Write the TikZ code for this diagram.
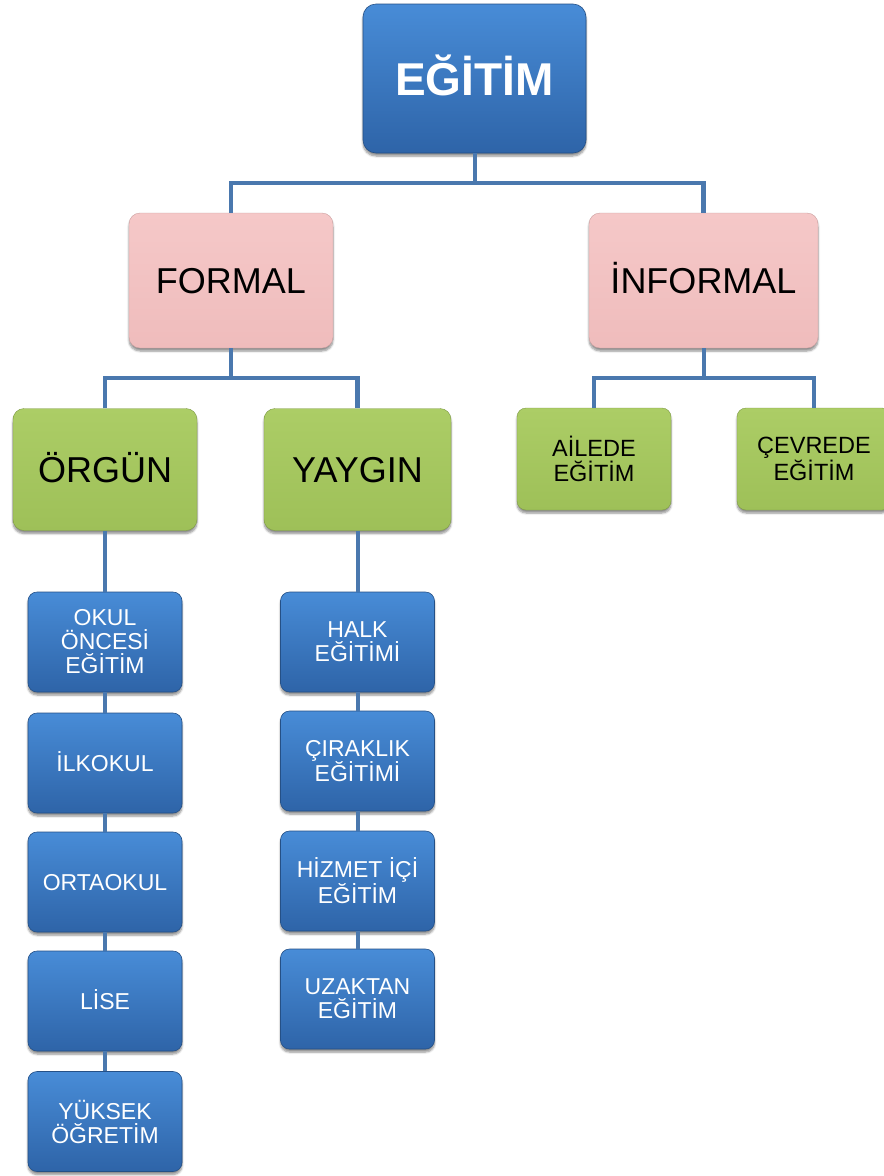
\documentclass[tikz,border=0pt]{standalone}
\usepackage{fontspec}
\setmainfont{Liberation Sans}
\usetikzlibrary{shadows.blur}
\definecolor{bluetop}{RGB}{72,140,215}
\definecolor{bluebot}{RGB}{46,100,168}
\definecolor{pinktop}{RGB}{245,200,200}
\definecolor{pinkbot}{RGB}{239,188,188}
\definecolor{greentop}{RGB}{172,205,102}
\definecolor{greenbot}{RGB}{158,192,88}
\definecolor{conncol}{RGB}{74,120,174}
\tikzset{
  box/.style={rounded corners=11pt, inner sep=0pt, align=center,
    blur shadow={shadow xshift=0pt, shadow yshift=-3pt, shadow blur steps=6, shadow opacity=45}},
  bluebox/.style={box, top color=bluetop, bottom color=bluebot, draw=bluebot!80!black, line width=0.6pt, text=white},
  pinkbox/.style={box, top color=pinktop, bottom color=pinkbot, draw=pinkbot!85!black, line width=0.4pt, text=black,
    minimum width=204pt, minimum height=135pt, font=\fontsize{36}{38}\selectfont, text height=26pt, text depth=0pt},
  greenbig/.style={box, top color=greentop, bottom color=greenbot, draw=greenbot!80!black, line width=0.4pt, text=black,
    minimum height=122pt, font=\fontsize{36}{38}\selectfont, text height=26pt, text depth=0pt},
  greensmall/.style={box, rounded corners=9pt, top color=greentop, bottom color=greenbot, draw=greenbot!80!black, line width=0.4pt, text=black,
    minimum width=154pt, minimum height=102pt, font=\fontsize{23.5}{24.5}\selectfont},
  smallblue/.style={bluebox, rounded corners=9pt, minimum width=154pt, minimum height=100pt, font=\fontsize{23}{24}\selectfont},
  oneline/.style={text height=16.5pt, text depth=0pt},
  conn/.style={draw=conncol, line width=4.5pt},
  vconn/.style={draw=conncol, line width=4pt}
}
\begin{document}
\begin{tikzpicture}[x=1pt,y=-1pt]
\useasboundingbox (0,0) rectangle (884,1176);
% nodes
\node[bluebox, rounded corners=13pt, minimum width=223pt, minimum height=149pt, font=\bfseries\fontsize{46}{48}\selectfont, text height=33pt, text depth=0pt] (egitim) at (474.5,78.5) {EĞİTİM};
\node[pinkbox] (formal) at (231,280.5) {FORMAL};
\node[pinkbox, minimum width=229pt] (informal) at (703.5,280.5) {İNFORMAL};
\node[greenbig, minimum width=184pt] (orgun) at (105,469.5) {ÖRGÜN};
\node[greenbig, minimum width=187pt] (yaygin) at (357.5,469.5) {YAYGIN};
\node[greensmall] (ailede) at (594,459) {AİLEDE\\EĞİTİM};
\node[greensmall] (cevrede) at (814,459) {ÇEVREDE\\EĞİTİM};
% left column
\node[smallblue] (okul) at (105,642) {OKUL\\ÖNCESİ\\EĞİTİM};
\node[smallblue, oneline] (ilk) at (105,763) {İLKOKUL};
\node[smallblue, oneline] (orta) at (105,882) {ORTAOKUL};
\node[smallblue, oneline] (lise) at (105,1001) {LİSE};
\node[smallblue] (yuksek) at (105,1121.5) {YÜKSEK\\ÖĞRETİM};
% right column
\node[smallblue] (halk) at (357.5,642) {HALK\\EĞİTİMİ};
\node[smallblue] (cirak) at (357.5,761) {ÇIRAKLIK\\EĞİTİMİ};
\node[smallblue] (hizmet) at (357.5,881) {HİZMET İÇİ\\EĞİTİM};
\node[smallblue] (uzak) at (357.5,999) {UZAKTAN\\EĞİTİM};
% junctions
\coordinate (j1) at (474.5,183);
\coordinate (j2) at (231,378);
\coordinate (j3) at (703.5,378);
% connectors
\draw[vconn] (egitim.south) -- (j1);
\draw[conn] (formal.north) |- (j1) -| (informal.north);
\draw[vconn] (formal.south) -- (j2);
\draw[conn] (orgun.north) |- (j2) -| (yaygin.north);
\draw[vconn] (informal.south) -- (j3);
\draw[conn] (ailede.north) |- (j3) -| (cevrede.north);
\draw[vconn] (orgun.south) -- (okul.north);
\draw[vconn] (okul.south) -- (ilk.north);
\draw[vconn] (ilk.south) -- (orta.north);
\draw[vconn] (orta.south) -- (lise.north);
\draw[vconn] (lise.south) -- (yuksek.north);
\draw[vconn] (yaygin.south) -- (halk.north);
\draw[vconn] (halk.south) -- (cirak.north);
\draw[vconn] (cirak.south) -- (hizmet.north);
\draw[vconn] (hizmet.south) -- (uzak.north);
\end{tikzpicture}
\end{document}
